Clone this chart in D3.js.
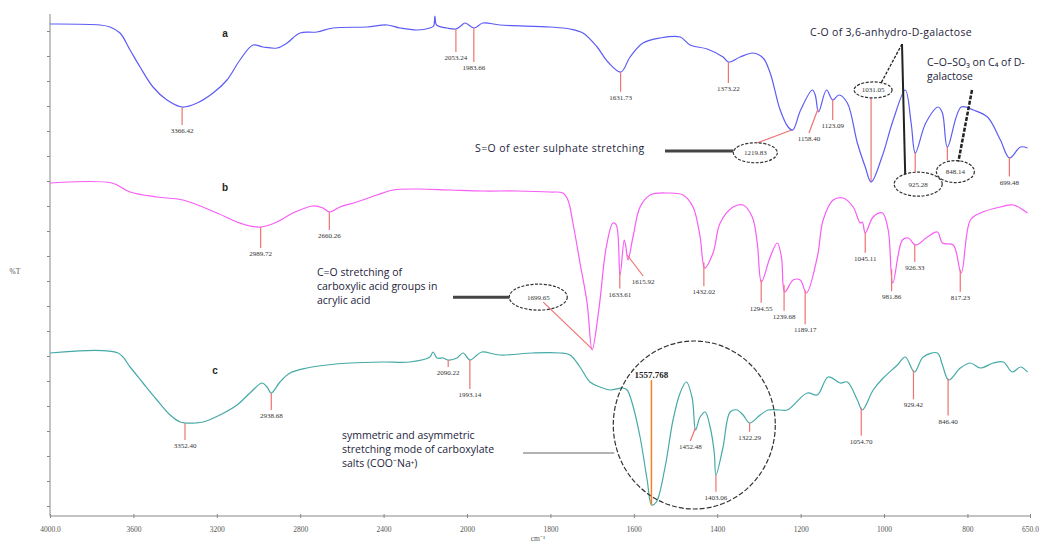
<!DOCTYPE html>
<html>
<head>
<meta charset="utf-8">
<script src="https://cdn.jsdelivr.net/npm/d3@7"></script>
<style>
  body { margin: 0; background: #fff; }
  .note { font-family: "Open Sans", sans-serif; font-size: 10.5px; fill: #1e1e3c; }
  .peak { font-family: "Liberation Serif", serif; font-size: 7px; fill: #333; }
  .tick text { font-family: "Liberation Serif", serif; font-size: 7.5px; fill: #555; }
</style>
</head>
<body>
<div id="chart"></div>
<script>
// x axis ticks (wavenumber, cm-1)
const xTicks = [4000, 3600, 3200, 2800, 2400, 2000, 1800, 1600, 1400, 1200, 1000, 800, 650];
const xTickLabels = ["4000.0", "3600", "3200", "2800", "2400", "2000", "1800", "1600", "1400", "1200", "1000", "800", "650.0"];

// spectra: [wavenumber, %T]
const seriesA = [[4000,96.4],[3760,96.2],[3712,95.8],[3664,94.6],[3616,91.2],[3568,87.8],[3506,83.8],[3439,81.2],[3366,79.8],[3295,80.6],[3218,82.6],[3151,85.2],[3089,89.2],[3026,92.2],[2978,91.8],[2911,91.6],[2863,92.6],[2801,94.6],[2720,94.8],[2643,95.6],[2480,95.8],[2384,96.2],[2321,95.6],[2240,95.2],[2178,95.6],[2160,96.0],[2154,98.0],[2146,96.2],[2096,95.6],[2053,95.4],[2030,96.0],[2010,96.6],[1983,95.6],[1962,96.6],[1921,96.2],[1801,95.8],[1753,95.4],[1722,94.6],[1688,91.8],[1662,88.8],[1631,86.8],[1609,89.8],[1578,92.6],[1537,93.6],[1489,93.8],[1465,92.2],[1424,91.4],[1386,89.8],[1373,88.8],[1345,89.8],[1314,90.6],[1290,89.6],[1273,86.6],[1249,79.2],[1230,75.8],[1219,75.2],[1200,79.2],[1172,83.2],[1165,82.2],[1157,78.8],[1138,83.2],[1123,81.2],[1108,82.2],[1088,80.6],[1064,72.6],[1045,67.8],[1031,64.8],[1005,69.8],[978,77.2],[949,83.2],[935,76.6],[925,70.6],[900,76.6],[870,79.8],[860,78.6],[848,71.8],[815,79.8],[786,79.2],[752,77.8],[721,73.2],[699,69.6],[673,71.8],[656,71.6]];

const seriesB = [[4000,64.6],[3703,64.6],[3616,62.8],[3487,61.8],[3362,61.2],[3199,58.6],[3103,56.8],[3041,56.0],[2990,55.8],[2911,56.8],[2835,58.6],[2739,60.0],[2691,59.6],[2660,58.8],[2609,59.8],[2528,60.8],[2432,62.2],[2355,63.2],[2240,63.4],[2082,63.2],[1962,63.0],[1880,63.0],[1801,62.8],[1770,62.6],[1758,61.2],[1746,56.6],[1729,48.6],[1712,40.6],[1700,31.2],[1684,39.2],[1666,51.8],[1650,56.6],[1642,56.2],[1633,46.2],[1623,53.2],[1619,51.8],[1614,49.2],[1602,53.8],[1585,59.8],[1561,62.2],[1520,62.6],[1482,62.2],[1458,59.8],[1441,53.8],[1430,47.6],[1410,50.6],[1393,56.6],[1362,59.8],[1338,60.2],[1316,57.8],[1304,52.6],[1294,44.8],[1273,49.8],[1256,52.6],[1246,49.8],[1238,42.8],[1218,45.2],[1201,45.2],[1186,42.6],[1160,49.8],[1146,57.2],[1122,61.2],[1098,61.6],[1074,59.8],[1057,56.6],[1052,56.8],[1045,54.6],[1026,57.8],[1004,58.6],[990,55.2],[979,44.6],[956,53.2],[942,53.6],[924,52.2],[896,53.8],[872,54.8],[860,52.6],[834,52.2],[815,46.6],[793,57.2],[769,58.6],[721,59.8],[690,60.2],[656,58.6]];

const seriesC = [[4000,30.6],[3674,30.6],[3616,27.8],[3554,24.6],[3487,21.2],[3424,18.2],[3376,16.8],[3352,16.6],[3300,16.6],[3266,16.8],[3185,18.2],[3103,20.2],[3041,22.6],[2983,24.6],[2959,23.8],[2939,22.6],[2897,24.8],[2849,26.6],[2767,27.6],[2672,28.2],[2561,28.6],[2403,28.8],[2273,28.8],[2178,29.8],[2163,30.8],[2144,29.6],[2115,29.6],[2090,29.2],[2048,29.6],[2019,30.6],[1993,29.2],[1976,30.2],[1964,30.8],[1921,30.2],[1842,30.6],[1777,30.6],[1753,30.2],[1729,27.8],[1705,24.8],[1681,23.8],[1657,23.2],[1626,23.6],[1616,23.2],[1604,20.6],[1585,13.8],[1568,5.2],[1557,0.2],[1546,0.8],[1525,7.8],[1506,17.2],[1489,22.6],[1474,24.8],[1460,21.6],[1452,15.2],[1441,17.8],[1429,18.8],[1417,15.8],[1407,10.6],[1403,6.2],[1386,11.8],[1369,18.8],[1352,19.2],[1338,18.2],[1322,16.6],[1297,18.2],[1278,19.2],[1249,19.2],[1232,19.2],[1184,22.6],[1160,22.2],[1134,25.8],[1105,24.6],[1088,24.8],[1064,21.2],[1052,19.2],[1026,23.2],[1002,25.6],[968,28.2],[949,29.8],[927,26.8],[906,29.8],[872,30.6],[860,28.2],[845,25.2],[817,27.6],[793,28.6],[769,27.6],[738,28.6],[714,28.8],[692,26.8],[673,27.8],[656,26.8]];

// labelled peaks
const peaksA = ["3366.42", "2053.24", "1983.66", "1631.73", "1373.22", "1158.40", "1123.09", "699.48"];
const circledA = ["1219.83", "1031.05", "925.28", "848.14"];
const peaksB = ["2989.72", "2660.26", "1633.61", "1615.92", "1432.02", "1294.55", "1239.68", "1189.17", "1045.11", "981.86", "926.33", "817.23"];
const circledB = ["1699.65"];
const peaksC = ["3352.40", "2938.68", "2090.22", "1993.14", "1452.48", "1403.06", "1322.29", "1054.70", "929.42", "846.40"];
const markerC = "1557.768";

// label leader layout: [drop, dx] in px
const dropA = [[18,0],[23,0],[34,0],[20,0],[21,0],[24,-9],[20,0],[19,0]];
const dropB = [[21,0],[18,0],[17,0],[21,16],[24,0],[23,0],[26,0],[34,0],[20,0],[22,0],[18,0],[22,0]];
const dropC = [[17,0],[17,0],[7,0],[29,0],[13,-5],[17,0],[9,0],[28,0],[29,0],[37,0]];

const width = 1039, height = 542;

const svg = d3.select('#chart').append('svg')
  .attr('width', width)
  .attr('height', height);

const x = d3.scaleLinear()
  .domain([4000, 2000, 650])
  .range([50, 467, 1030]);

const y = d3.scaleLinear()
  .domain([0, 98.4])
  .range([506, 14]);

const axisY = 516;

// x axis
const xAxis = svg.append('g')
  .attr('transform', `translate(0,${axisY})`)
  .call(d3.axisBottom(x).tickValues(xTicks).tickFormat((d, i) => xTickLabels[i]).tickSize(2).tickPadding(9));
xAxis.select('.domain').attr('stroke', '#888').attr('d', `M50,0H1030`);
xAxis.selectAll('.tick line').attr('stroke', '#888').attr('y1', -2).attr('y2', 2);

// y axis
const yAxis = svg.append('g')
  .attr('transform', 'translate(50,0)')
  .call(d3.axisLeft(y).tickValues(d3.range(0, 100, 5)).tickSize(3).tickFormat(''));
yAxis.select('.domain').attr('stroke', '#888').attr('d', `M0,14V${axisY}`);
yAxis.selectAll('.tick line').attr('stroke', '#888');

svg.append('text')
  .attr('x', 15).attr('y', 274)
  .attr('text-anchor', 'middle')
  .attr('font-family', 'Liberation Serif').attr('font-size', '7.5px').attr('fill', '#555')
  .text('%T');

svg.append('text')
  .attr('x', 538).attr('y', 541)
  .attr('text-anchor', 'middle')
  .attr('font-family', 'Liberation Serif').attr('font-size', '7.5px').attr('fill', '#555')
  .text('cm⁻¹');

function valueAt(series, wn) {
  for (let i = 0; i < series.length - 1; i++) {
    const [w0, t0] = series[i], [w1, t1] = series[i + 1];
    if (wn <= w0 && wn >= w1) return t0 + (t1 - t0) * (w0 - wn) / (w0 - w1);
  }
  return series[series.length - 1][1];
}

const line = d3.line()
  .x(d => x(d[0]))
  .y(d => y(d[1]))
  .curve(d3.curveCatmullRom.alpha(0.5));

const red = '#f07272';

function drawPeaks(series, labels, drops) {
  const g = svg.append('g');
  labels.forEach((lab, i) => {
    const wn = +lab;
    const px = x(wn), py = y(valueAt(series, wn));
    const [drop, dx] = drops[i];
    g.append('line')
      .attr('x1', px).attr('y1', py)
      .attr('x2', px + dx).attr('y2', py + drop)
      .attr('stroke', red).attr('stroke-width', 1.2);
    g.append('text')
      .attr('class', 'peak')
      .attr('x', px + dx).attr('y', py + drop + 8)
      .attr('text-anchor', 'middle')
      .text(lab);
  });
}

function ellipse(cx, cy, rx, ry, lab, dash) {
  svg.append('ellipse')
    .attr('cx', cx).attr('cy', cy).attr('rx', rx).attr('ry', ry)
    .attr('fill', 'none').attr('stroke', '#333').attr('stroke-width', 1.2)
    .attr('stroke-dasharray', dash || '3,1.5');
  if (lab) {
    svg.append('text').attr('class', 'peak')
      .attr('x', cx).attr('y', cy + 2.5)
      .attr('text-anchor', 'middle')
      .text(lab);
  }
}

function note(x0, y0, lines) {
  const t = svg.append('text').attr('class', 'note');
  lines.forEach((s, i) => {
    t.append('tspan').attr('x', x0).attr('y', y0 + i * 14).text(s);
  });
  return t;
}

// circled peak leaders (drawn under the traces)
const pA = circledA.map(l => [x(+l), y(valueAt(seriesA, +l))]);
const pB = circledB.map(l => [x(+l), y(valueAt(seriesB, +l))]);

// 1219.83
svg.append('line').attr('x1', pA[0][0] - 35).attr('y1', pA[0][1] + 13)
  .attr('x2', pA[0][0]).attr('y2', pA[0][1]).attr('stroke', red).attr('stroke-width', 1.2);
// 1031.05
svg.append('line').attr('x1', pA[1][0]).attr('y1', pA[1][1] - 84)
  .attr('x2', pA[1][0]).attr('y2', pA[1][1]).attr('stroke', red).attr('stroke-width', 1.2);
// 925.28
svg.append('line').attr('x1', pA[2][0]).attr('y1', pA[2][1])
  .attr('x2', pA[2][0]).attr('y2', pA[2][1] + 20).attr('stroke', red).attr('stroke-width', 1.2);
// 848.14
svg.append('line').attr('x1', pA[3][0]).attr('y1', pA[3][1])
  .attr('x2', pA[3][0]).attr('y2', pA[3][1] + 14).attr('stroke', red).attr('stroke-width', 1.2);
// 1699.65
svg.append('line').attr('x1', pB[0][0] - 49).attr('y1', pB[0][1] - 47)
  .attr('x2', pB[0][0]).attr('y2', pB[0][1]).attr('stroke', red).attr('stroke-width', 1.2);

// traces
svg.append('path').datum(seriesA)
  .attr('fill', 'none').attr('stroke', '#5c5cf5').attr('stroke-width', 1.2).attr('d', line);
svg.append('path').datum(seriesB)
  .attr('fill', 'none').attr('stroke', '#f75cf5').attr('stroke-width', 1.2).attr('d', line);
svg.append('path').datum(seriesC)
  .attr('fill', 'none').attr('stroke', '#45aaa7').attr('stroke-width', 1.2).attr('d', line);

drawPeaks(seriesA, peaksA, dropA);
drawPeaks(seriesB, peaksB, dropB);
drawPeaks(seriesC, peaksC, dropC);

// series letters
[['a', 225, 37], ['b', 225, 191], ['c', 215, 374]].forEach(([s, lx, ly]) => {
  svg.append('text').attr('x', lx).attr('y', ly)
    .attr('text-anchor', 'middle')
    .attr('font-family', 'Liberation Sans').attr('font-weight', 'bold')
    .attr('font-size', '10px').attr('fill', '#2a2418')
    .text(s);
});

// ellipses with labels
ellipse(pA[0][0] - 37, pA[0][1] + 23, 22, 10, circledA[0]);
ellipse(pA[1][0] + 2, pA[1][1] - 92, 19, 8, circledA[1]);
ellipse(pA[2][0] + 3, pA[2][1] + 32, 24, 12, circledA[2]);
ellipse(pA[3][0] + 8, pA[3][1] + 25, 19, 11, circledA[3]);
ellipse(pB[0][0] - 54, pB[0][1] - 52, 29, 13, circledB[0]);

// S=O callout
note(475, 152, ['S=O of ester sulphate stretching']).attr('letter-spacing', 0.4);
svg.append('line').attr('x1', 665).attr('y1', 151).attr('x2', pA[0][0] - 59).attr('y2', 151)
  .attr('stroke', '#444').attr('stroke-width', 3);

// C-O of 3,6-anhydro-D-galactose callout
note(810, 36, ['C-O of 3,6-anhydro-D-galactose']).attr('letter-spacing', 0.3);
svg.append('line').attr('x1', 902).attr('y1', 44).attr('x2', pA[1][0] + 10).attr('y2', pA[1][1] - 99)
  .attr('stroke', '#222').attr('stroke-width', 1.3).attr('stroke-dasharray', '3,1.5');
svg.append('line').attr('x1', 902).attr('y1', 44).attr('x2', pA[2][0] - 10).attr('y2', pA[2][1] + 22)
  .attr('stroke', '#222').attr('stroke-width', 2);

// C-O-SO3 callout
note(927, 66, ['C–O–SO₃ on C₄ of D-', 'galactose']);
svg.append('line').attr('x1', 972).attr('y1', 90).attr('x2', pA[3][0] + 11).attr('y2', pA[3][1] + 15)
  .attr('stroke', '#222').attr('stroke-width', 2.5).attr('stroke-dasharray', '4,1.5');

// C=O callout
note(317, 276, ['C=O stretching of', 'carboxylic acid groups in', 'acrylic acid']);
svg.append('line').attr('x1', 453).attr('y1', pB[0][1] - 52).attr('x2', pB[0][0] - 83).attr('y2', pB[0][1] - 52)
  .attr('stroke', '#444').attr('stroke-width', 3);

// carboxylate callout
note(342, 439, ['symmetric and asymmetric', 'stretching mode of carboxylate', 'salts (COO⁻Na⁺)']);
const circ = { cx: x(1455), cy: 425, rx: 81, ry: 84 };
svg.append('line').attr('x1', 523).attr('y1', 453).attr('x2', circ.cx - circ.rx + 1).attr('y2', 453)
  .attr('stroke', '#999').attr('stroke-width', 1.5);
ellipse(circ.cx, circ.cy, circ.rx, circ.ry, null, '5,2');

// 1557.768 marker
const mx = x(+markerC);
svg.append('line').attr('x1', mx).attr('y1', 380).attr('x2', mx).attr('y2', y(valueAt(seriesC, +markerC)) + 2)
  .attr('stroke', '#f5821f').attr('stroke-width', 1.5);
svg.append('text').attr('x', mx).attr('y', 378)
  .attr('text-anchor', 'middle')
  .attr('font-family', 'Liberation Serif').attr('font-weight', 'bold')
  .attr('font-size', '9px').attr('fill', '#222')
  .text(markerC);
</script>
</body>
</html>
